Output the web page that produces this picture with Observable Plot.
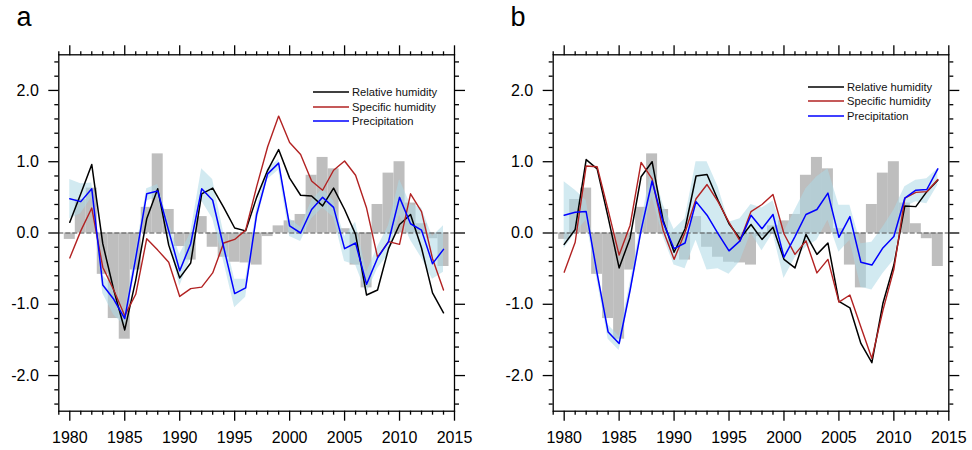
<!DOCTYPE html>
<html>
<head>
<meta charset="utf-8">
<script src="https://cdn.jsdelivr.net/npm/d3@7"></script>
<script src="https://cdn.jsdelivr.net/npm/@observablehq/plot@0.6"></script>
<style>
  html, body { margin: 0; padding: 0; background: white; }
  #root { position: relative; width: 972px; height: 450px; font-family: "Liberation Sans", Arial, sans-serif; }
  .panel { position: absolute; top: 0; width: 486px; height: 450px; }
  .tag { position: absolute; font-size: 27px; line-height: 27px; color: black; }
  .leg { position: absolute; display: flex; align-items: center; height: 14px; font-size: 11.2px; line-height: 14px; color: #111; white-space: nowrap; }
  .leg svg { margin-right: 3px; display: block; }
</style>
</head>
<body>
<div id="root"></div>
<script>
// ---------- data ----------
const years = d3.range(1980, 2015);

// grey bars (same index in both panels)
const barIndex = [-0.09, 0.47, 0.63, -0.58, -1.2, -1.49, -0.52, 0.36, 1.11, 0.33,
  -0.19, -0.38, 0.23, -0.2, -0.34, -0.41, -0.42, -0.45, -0.05, 0.1,
  0.17, 0.26, 0.81, 1.06, 0.9, 0.06, -0.45, -0.77, 0.4, 0.84,
  1.0, 0.42, 0.13, -0.08, -0.47];

// panel a
const rhA = [0.15, 0.55, 0.96, -0.15, -0.8, -1.36, -0.66, 0.2, 0.62, -0.17,
  -0.63, -0.42, 0.55, 0.63, 0.36, 0.07, 0.03, 0.5, 0.88, 1.17,
  0.77, 0.53, 0.52, 0.38, 0.63, 0.33, -0.02, -0.87, -0.8, -0.22,
  0.12, 0.26, -0.21, -0.84, -1.12];
const shA = [-0.35, 0.03, 0.35, -0.48, -0.8, -1.16, -0.86, -0.08, -0.24, -0.41,
  -0.89, -0.78, -0.76, -0.56, -0.14, -0.09, 0.04, 0.65, 1.21, 1.64,
  1.27, 1.1, 0.73, 0.6, 0.88, 1.01, 0.81, 0.35, -0.34, -0.12,
  -0.16, 0.55, 0.3, -0.36, -0.8];
const prA = [0.48, 0.44, 0.62, -0.73, -0.93, -1.2, -0.35, 0.55, 0.59, 0.03,
  -0.53, -0.15, 0.62, 0.46, -0.2, -0.85, -0.77, 0.26, 0.83, 0.98,
  0.1, 0.0, 0.33, 0.5, 0.36, -0.22, -0.14, -0.72, -0.35, -0.12,
  0.5, 0.13, 0.04, -0.43, -0.23];
const prLoA = [0.2, 0.27, 0.5, -0.85, -1.15, -1.3, -0.5, 0.45, 0.5, -0.1,
  -0.75, -0.35, 0.45, 0.2, -0.4, -1.05, -0.9, 0.15, 0.75, 0.88,
  -0.05, -0.12, 0.2, 0.35, 0.22, -0.4, -0.45, -0.85, -0.5, -0.3,
  0.25, -0.1, -0.35, -0.65, -0.55];
const prHiA = [0.75, 0.69, 0.7, -0.6, -0.75, -1.1, -0.25, 0.62, 0.68, 0.15,
  -0.3, 0.0, 0.9, 0.75, 0.0, -0.65, -0.65, 0.35, 0.9, 1.03,
  0.2, 0.08, 0.45, 0.62, 0.45, -0.05, 0.15, -0.55, -0.2, 0.1,
  0.75, 0.4, 0.35, -0.05, 0.1];

// panel b
const rhB = [-0.16, 0.05, 1.03, 0.9, 0.22, -0.49, -0.07, 0.79, 1.0, 0.18,
  -0.27, 0.06, 0.8, 0.82, 0.46, 0.13, -0.08, 0.12, -0.09, 0.08,
  -0.37, -0.49, -0.02, -0.3, -0.14, -0.96, -1.05, -1.55, -1.82, -0.99,
  -0.45, 0.38, 0.37, 0.58, 0.74];
const shB = [-0.55, -0.13, 0.94, 0.93, 0.32, -0.31, 0.11, 0.99, 0.76, 0.04,
  -0.37, 0.01, 0.48, 0.68, 0.44, 0.15, -0.11, 0.3, 0.4, 0.54,
  -0.01, -0.3, -0.11, -0.56, -0.37, -0.97, -0.87, -1.32, -1.76, -1.09,
  -0.51, 0.49, 0.57, 0.58, 0.75];
const prB = [0.25, 0.29, 0.3, -0.57, -1.39, -1.55, -0.8, 0.04, 0.73, 0.15,
  -0.22, -0.14, 0.44, 0.25, -0.01, -0.25, -0.11, 0.25, 0.06, 0.26,
  -0.34, -0.05, 0.26, 0.33, 0.56, -0.06, 0.23, -0.41, -0.45, -0.21,
  -0.05, 0.49, 0.6, 0.61, 0.9];
const prLoB = [-0.22, 0.0, 0.18, -0.67, -1.49, -1.65, -0.9, -0.06, 0.5, -0.05,
  -0.45, -0.5, -0.1, -0.52, -0.5, -0.58, -0.4, 0.0, -0.25, 0.0,
  -0.64, -0.35, -0.2, -0.1, 0.18, -0.27, -0.1, -0.76, -0.8, -0.57,
  -0.38, 0.36, 0.44, 0.41, 0.67];
const prHiB = [0.72, 0.6, 0.46, -0.47, -1.29, -1.45, -0.7, 0.14, 0.95, 0.4,
  0.05, 0.2, 1.0, 1.0, 0.65, 0.15, 0.2, 0.4, 0.35, 0.45,
  0.01, 0.32, 0.62, 0.79, 0.9, 0.39, 0.39, -0.15, -0.13, 0.08,
  0.32, 0.65, 0.74, 0.76, 0.9];

const seriesNames = ["Relative humidity", "Specific humidity", "Precipitation"];
const seriesColors = ["#000000", "#b22222", "#0000ff"];

const majorX = [1980, 1985, 1990, 1995, 2000, 2005, 2010, 2015];
const minorX = d3.range(1979, 2016).filter(y => y % 5 !== 0);
const majorY = [-2, -1, 0, 1, 2];
const minorY = d3.range(-12, 13).filter(i => i % 5 !== 0).map(i => i / 5);

// ---------- drawing ----------
function panel(rh, sh, pr, lo, hi, mLeft, mRight) {
  const rows = years.map((year, i) => ({year, bar: barIndex[i], rh: rh[i], sh: sh[i], pr: pr[i], lo: lo[i], hi: hi[i]}));
  const sw = 1.3;
  return Plot.plot({
    width: 486, height: 450,
    marginLeft: mLeft, marginRight: mRight, marginTop: 54.3, marginBottom: 39.3,
    style: {fontFamily: '"Liberation Sans", Arial, sans-serif', fontSize: "16px", color: "black", background: "white"},
    x: {domain: [1979, 2015]},
    y: {domain: [-2.5, 2.5]},
    marks: [
      Plot.rectY(rows, {x1: d => d.year - 0.5, x2: d => d.year + 0.5, y: "bar", fill: "#bebebe"}),
      Plot.areaY(rows, {x: "year", y1: "lo", y2: "hi", fill: "#add8e6", fillOpacity: 0.55}),
      Plot.ruleY([0], {stroke: "#4d4d4d", strokeWidth: 1.2, strokeDasharray: "5,2"}),
      Plot.line(rows, {x: "year", y: "rh", stroke: seriesColors[0], strokeWidth: 1.5}),
      Plot.line(rows, {x: "year", y: "sh", stroke: seriesColors[1], strokeWidth: 1.4}),
      Plot.line(rows, {x: "year", y: "pr", stroke: seriesColors[2], strokeWidth: 1.5}),
      Plot.frame({stroke: "black", strokeWidth: sw}),
      Plot.axisX({anchor: "bottom", ticks: majorX, tickSize: 10, tickPadding: 10, tickFormat: d => String(d), fontSize: 16, label: null, strokeWidth: sw}),
      Plot.axisX({anchor: "bottom", ticks: minorX, tickSize: 4, tickFormat: () => "", label: null, strokeWidth: sw}),
      Plot.axisX({anchor: "top", ticks: majorX, tickSize: 10, tickFormat: () => "", label: null, strokeWidth: sw}),
      Plot.axisX({anchor: "top", ticks: minorX, tickSize: 4, tickFormat: () => "", label: null, strokeWidth: sw}),
      Plot.axisY({anchor: "left", ticks: majorY, tickSize: 10, tickPadding: 10, tickFormat: d => d.toFixed(1), fontSize: 16, label: null, strokeWidth: sw}),
      Plot.axisY({anchor: "left", ticks: minorY, tickSize: 4, tickFormat: () => "", label: null, strokeWidth: sw}),
      Plot.axisY({anchor: "right", ticks: majorY, tickSize: 10, tickFormat: () => "", label: null, strokeWidth: sw}),
      Plot.axisY({anchor: "right", ticks: minorY, tickSize: 4, tickFormat: () => "", label: null, strokeWidth: sw})
    ]
  });
}

const root = document.getElementById("root");
const NS = "http://www.w3.org/2000/svg";

function addPanel(left, chart, tag, tagLeft, legLeft, legTops) {
  const div = document.createElement("div");
  div.className = "panel";
  div.style.left = left + "px";
  div.appendChild(chart);
  root.appendChild(div);
  const t = document.createElement("div");
  t.className = "tag";
  t.textContent = tag;
  t.style.left = tagLeft + "px";
  t.style.top = "4px";
  root.appendChild(t);
  seriesNames.forEach((name, i) => {
    const row = document.createElement("div");
    row.className = "leg";
    row.style.left = legLeft + "px";
    row.style.top = (legTops[i] - 7) + "px";
    const s = document.createElementNS(NS, "svg");
    s.setAttribute("width", "36");
    s.setAttribute("height", "14");
    const ln = document.createElementNS(NS, "line");
    ln.setAttribute("x1", "0"); ln.setAttribute("x2", "36");
    ln.setAttribute("y1", "7"); ln.setAttribute("y2", "7");
    ln.setAttribute("stroke", seriesColors[i]);
    ln.setAttribute("stroke-width", "1.5");
    s.appendChild(ln);
    const txt = document.createElement("span");
    txt.textContent = name;
    row.appendChild(s);
    row.appendChild(txt);
    root.appendChild(row);
  });
}

addPanel(0, panel(rhA, shA, prA, prLoA, prHiA, 58.3, 32), "a", 16.5, 313, [92.3, 106.7, 120.7]);
addPanel(486, panel(rhB, shB, prB, prLoB, prHiB, 66.7, 23.7), "b", 510.5, 808, [87.3, 101.3, 115.7]);
</script>
</body>
</html>
